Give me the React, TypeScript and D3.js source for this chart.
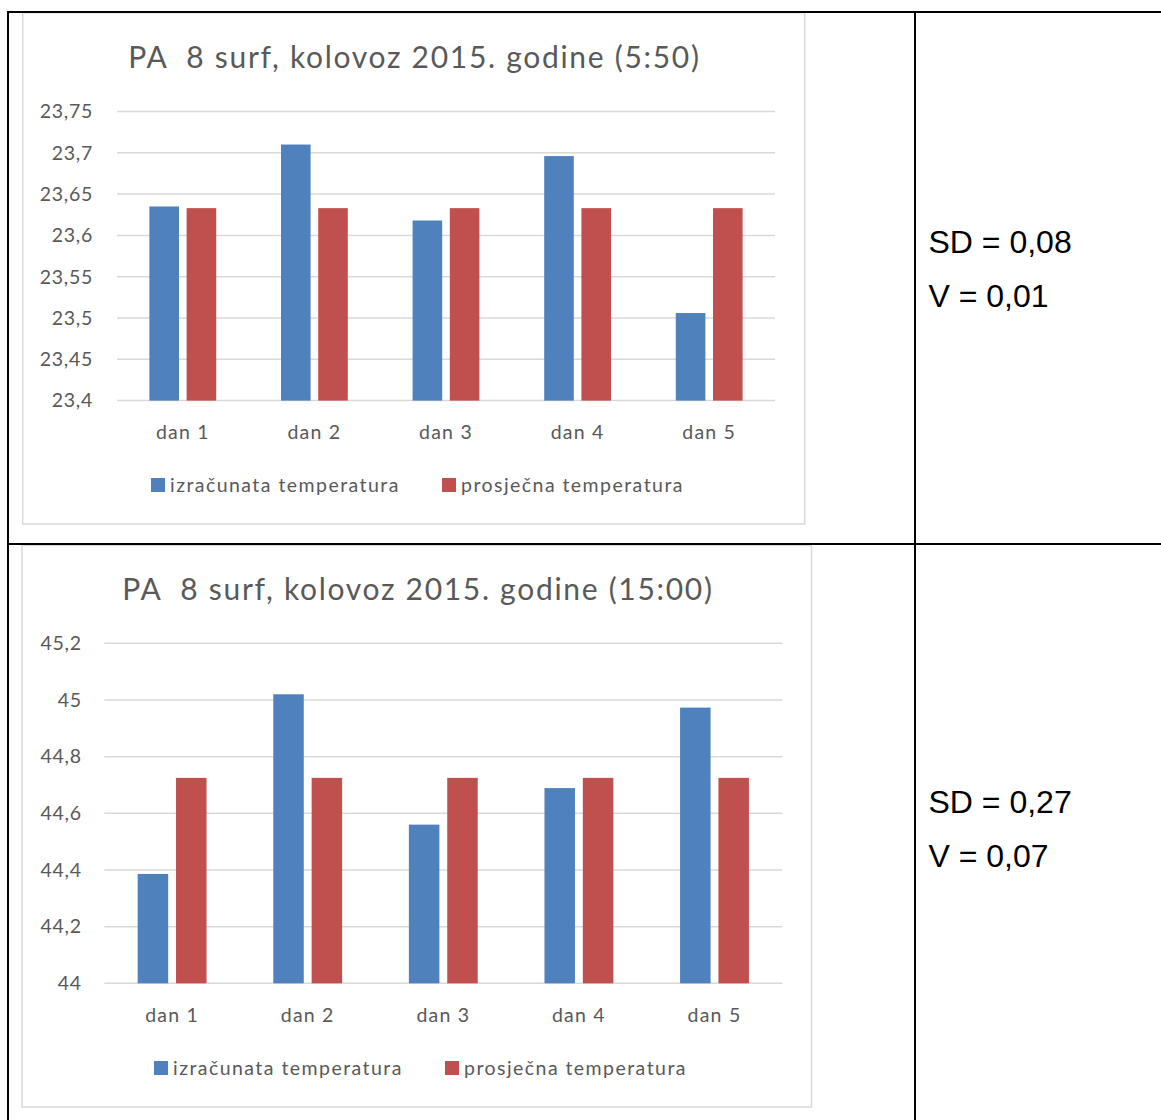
import React from "react";
import * as d3 from "d3";

const categories = ["dan 1", "dan 2", "dan 3", "dan 4", "dan 5"];
const seriesNames = ["izračunata temperatura", "prosječna temperatura"];
const seriesColors = ["#4f81bd", "#c0504d"];

// Chart 1 (5:50)
const title1 = "PA  8 surf, kolovoz 2015. godine (5:50)";
const calc1 = [23.635, 23.71, 23.618, 23.696, 23.506];
const avg1 = [23.633, 23.633, 23.633, 23.633, 23.633];
const ticks1 = [23.4, 23.45, 23.5, 23.55, 23.6, 23.65, 23.7, 23.75];
const stats1 = ["SD = 0,08", "V = 0,01"];

// Chart 2 (15:00)
const title2 = "PA  8 surf, kolovoz 2015. godine (15:00)";
const calc2 = [44.386, 45.02, 44.56, 44.689, 44.973];
const avg2 = [44.725, 44.725, 44.725, 44.725, 44.725];
const ticks2 = [44, 44.2, 44.4, 44.6, 44.8, 45, 45.2];
const stats2 = ["SD = 0,27", "V = 0,07"];

const FONT = "Lato, 'Open Sans', sans-serif";
const TEXT = "#595959";
const GRID = "#d9d9d9";

const fmt = (v: number) => String(+v.toFixed(2)).replace(".", ",");

type ChartProps = {
  box: [number, number, number, number];
  title: string;
  titleX: number;
  titleY: number;
  plot: [number, number, number, number]; // x0, x1, yTop, yBottom
  tickX: number;
  ticks: number[];
  values: number[][];
  catY: number;
  legendY: number;
  legendX: [number, number];
};

function BarChart(p: ChartProps) {
  const [x0, x1, yTop, yBot] = p.plot;
  const y = d3
    .scaleLinear()
    .domain([p.ticks[0], p.ticks[p.ticks.length - 1]])
    .range([yBot, yTop]);
  const x = d3.scaleBand<string>().domain(categories).range([x0, x1]).padding(0);
  const xs = d3
    .scaleBand<string>()
    .domain(seriesNames)
    .range([0, x.bandwidth()])
    .paddingInner(0.205)
    .paddingOuter(0.87);
  const [bx, by, bw, bh] = p.box;
  return (
    <g>
      <rect x={bx} y={by} width={bw} height={bh} fill="#fff" stroke={GRID} strokeWidth={1.5} />
      <text
        x={p.titleX}
        y={p.titleY}
        textAnchor="middle"
        fontFamily={FONT}
        fontSize={30}
        letterSpacing={1.7}
        fill={TEXT}
        style={{ whiteSpace: "pre" }}
      >
        {p.title}
      </text>
      {p.ticks.map((t) => (
        <g key={t}>
          <line x1={x0} x2={x1} y1={y(t)} y2={y(t)} stroke={GRID} strokeWidth={1.5} />
          <text
            x={p.tickX}
            y={y(t)}
            dy="0.35em"
            textAnchor="end"
            fontFamily={FONT}
            fontSize={19.5}
            letterSpacing={0.7}
            fill={TEXT}
          >
            {fmt(t)}
          </text>
        </g>
      ))}
      {categories.map((c, i) => (
        <g key={c}>
          {seriesNames.map((s, si) => {
            const v = p.values[si][i];
            return (
              <rect
                key={s}
                x={(x(c) as number) + (xs(s) as number)}
                y={y(v)}
                width={xs.bandwidth()}
                height={y(p.ticks[0]) - y(v)}
                fill={seriesColors[si]}
              />
            );
          })}
          <text
            x={(x(c) as number) + x.bandwidth() / 2}
            y={p.catY}
            textAnchor="middle"
            fontFamily={FONT}
            fontSize={19.5}
            letterSpacing={1.2}
            fill={TEXT}
          >
            {c}
          </text>
        </g>
      ))}
      {seriesNames.map((s, si) => (
        <g key={s}>
          <rect x={p.legendX[si]} y={p.legendY - 14} width={14} height={14} fill={seriesColors[si]} />
          <text
            x={p.legendX[si] + 19}
            y={p.legendY}
            fontFamily={FONT}
            fontSize={19.5}
            letterSpacing={1.45}
            fill={TEXT}
          >
            {s}
          </text>
        </g>
      ))}
    </g>
  );
}

export default function App() {
  const statFont = "'Liberation Sans', Arial, sans-serif";
  return (
    <svg
      width={1161}
      height={1120}
      style={{ position: "absolute", left: 0, top: 0, background: "#fff" }}
    >
      <rect x={0} y={0} width={1161} height={1120} fill="#fff" />
      <BarChart
        box={[22.7, 12.7, 782, 511.3]}
        title={title1}
        titleX={414.5}
        titleY={68}
        plot={[117, 775, 111.5, 400.6]}
        tickX={93}
        ticks={ticks1}
        values={[calc1, avg1]}
        catY={438.5}
        legendY={492}
        legendX={[151, 442]}
      />
      <BarChart
        box={[22, 545.5, 789.5, 561.5]}
        title={title2}
        titleX={418}
        titleY={600}
        plot={[104.3, 782.3, 643.3, 983.3]}
        tickX={81.7}
        ticks={ticks2}
        values={[calc2, avg2]}
        catY={1021.7}
        legendY={1075}
        legendX={[154, 445]}
      />
      {/* table lines */}
      <line x1={8} x2={8} y1={11} y2={1120} stroke="#000" strokeWidth={2} />
      <line x1={7} x2={1161} y1={12} y2={12} stroke="#000" strokeWidth={2} />
      <line x1={7} x2={1161} y1={544} y2={544} stroke="#000" strokeWidth={2} />
      <line x1={915} x2={915} y1={11} y2={1120} stroke="#000" strokeWidth={2} />
      {[stats1, stats2].map((st, k) => (
        <g key={k}>
          {st.map((t, j) => (
            <text
              key={t}
              x={928.5}
              y={(k === 0 ? 253.3 : 813.3) + j * 53.4}
              fontFamily={statFont}
              fontSize={32}
              fill="#000"
            >
              {t}
            </text>
          ))}
        </g>
      ))}
    </svg>
  );
}
